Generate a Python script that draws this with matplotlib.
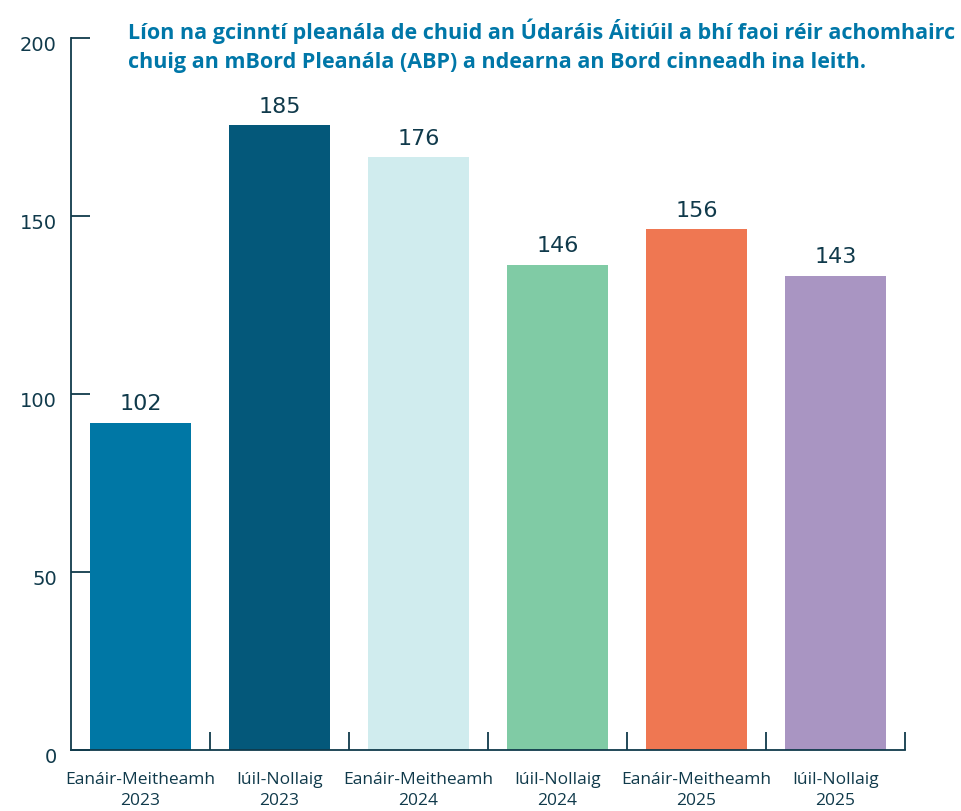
import numpy as np
import matplotlib
matplotlib.use("Agg")
import matplotlib.pyplot as plt
import matplotlib.transforms as mtransforms

# ---------------------------------------------------------
# Data
# ---------------------------------------------------------

periods = ["Eanáir-Meitheamh\n2023", "Iúil-Nollaig\n2023",
           "Eanáir-Meitheamh\n2024", "Iúil-Nollaig\n2024",
           "Eanáir-Meitheamh\n2025", "Iúil-Nollaig\n2025"]
decisions = [102, 185, 176, 146, 156, 143]
bar_colors = ["#0077A5", "#04587A", "#D0ECEE", "#80CBA5", "#EF7752", "#A995C2"]
tick_labels = ["0", "50", "100", "150", "200"]

title = ("Líon na gcinntí pleanála de chuid an Údaráis Áitiúil a bhí faoi réir achomhairc\n"
         "chuig an mBord Pleanála (ABP) a ndearna an Bord cinneadh ina leith.")

dark = "#103A4B"
num_font = ["DejaVu Sans"]
txt_font = ["Open Sans", "DejaVu Sans"]

# ---------------------------------------------------------
# Figure
# ---------------------------------------------------------

fig = plt.figure(figsize=(9.62, 8.11), dpi=100)
ax = fig.add_axes([0.0738, 0.0752, 0.8669, 0.8778])

x = np.arange(len(decisions))
ax.bar(x, decisions, width=0.73, color=bar_colors)

for xi, v in zip(x, decisions):
    ax.annotate(str(v), (xi, v), xytext=(0, 6), textcoords="offset points",
                ha="center", va="bottom", fontsize=16, color=dark,
                family=num_font)

# the source chart's value axis sits about 10 units above the bar base
ax.set_ylim(10.75, 209.2)
ytick_pos = np.linspace(10.75, 209.2, len(tick_labels))
ax.set_yticks(ytick_pos)
ax.set_yticklabels([])
lab_trans = ax.get_yaxis_transform() + mtransforms.ScaledTranslation(
    -14 / 100, -7 / 100, fig.dpi_scale_trans)
for yp, lab in zip(ytick_pos, tick_labels):
    ax.text(0, yp, lab, transform=lab_trans, ha="right", va="center",
            fontsize=14, color=dark, family=num_font)

ax.set_xlim(-0.5, len(decisions) - 0.5)
ax.set_xticks(x)
ax.set_xticklabels(periods, family=txt_font, fontsize=12.5, color=dark,
                   linespacing=1.4)
ax.set_xticks(list(x + 0.5), minor=True)

ax.tick_params(axis="x", which="major", length=0, pad=16)
ax.tick_params(axis="x", which="minor", direction="in", length=13,
               width=1.3, color=dark)
ax.tick_params(axis="y", direction="in", length=14, width=1.3, color=dark)

for side in ["top", "right"]:
    ax.spines[side].set_visible(False)
for side in ["left", "bottom"]:
    ax.spines[side].set_color(dark)
    ax.spines[side].set_linewidth(1.3)

fig.text(128 / 962, 1 - 19 / 811, title, ha="left", va="top",
         fontsize=15.5, fontweight="bold", color="#0077A8",
         family=txt_font, linespacing=1.45)

fig.savefig("out.png", dpi=100)
